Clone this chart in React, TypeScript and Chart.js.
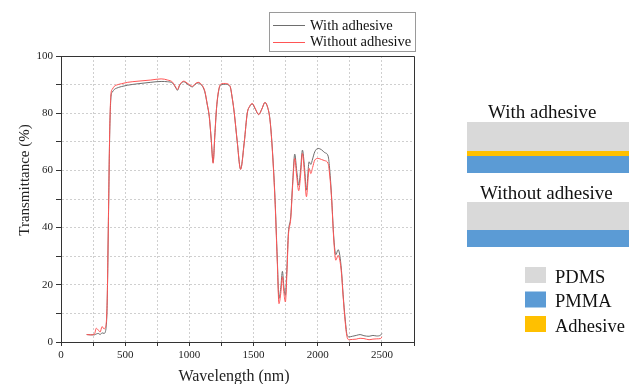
import { useEffect, useRef } from "react";
import { Chart, registerables } from "chart.js";

Chart.register(...registerables);

// ---- data ----
const wavelengths = [
  200, 230, 260, 275, 290, 305, 320, 335, 350, 360, 370, 380, 390, 400, 415, 430, 470, 520, 600, 700,
  780, 830, 870, 895, 907, 925, 956, 990, 1024, 1045, 1068, 1095, 1120, 1140, 1155, 1170, 1185, 1198,
  1212, 1230, 1250, 1280, 1316, 1335, 1350, 1373, 1399, 1428, 1451, 1470, 1490, 1515, 1540, 1565, 1589,
  1610, 1628, 1645, 1667, 1685, 1698, 1712, 1725, 1737, 1748, 1760, 1771, 1790, 1805, 1821, 1836, 1852,
  1866, 1881, 1897, 1912, 1933, 1946, 1960, 1977, 2003, 2030, 2055, 2081, 2094, 2107, 2126, 2141, 2159,
  2172, 2185, 2198, 2214, 2230, 2245, 2270, 2300, 2330, 2360, 2400, 2430, 2460, 2490, 2500,
];

const withAdhesive = [
  2.6, 2.5, 2.5, 2.8, 3.0, 2.6, 3.2, 3.0, 4.5, 14, 44, 74, 86, 87.4, 88.3, 88.7, 89.3, 89.8, 90.3, 90.8,
  91.1, 91, 90.5, 88.8, 88.0, 89.8, 91, 90, 89.2, 90.1, 90.6, 89.8, 87.5, 82.8, 78.8, 71, 62.8, 72,
  81.8, 88.2, 90, 90.1, 89.4, 85, 80, 70, 60.5, 70, 80, 82.3, 83.2, 81.3, 79.5, 81.5, 83.7,
  82, 77.8, 68.5, 50.5, 29, 15.2, 19, 24.7, 19, 16.3, 26, 37.9, 44, 56, 65.7, 60, 54.8,
  60, 67.1, 61, 53.1, 63, 62.1, 64, 66.5, 67.7, 67.2, 66.2, 65, 60, 51.5, 36, 30.5, 32.3,
  30.3, 25, 16.5, 8, 2.2, 1.8, 2.0, 2.3, 2.6, 2.2, 2.0, 2.3, 2.1, 2.4, 3.0,
];

const withoutAdhesive = [
  2.6, 2.5, 2.7, 4.8, 4.2, 3.5, 5.4, 4.6, 5.8, 15, 45, 75, 87, 88.4, 89.4, 89.8, 90.3, 90.8, 91.2, 91.6,
  92, 91.6, 90.8, 89, 88.3, 90, 91.2, 90.3, 89.4, 90.3, 90.8, 90, 87.8, 83, 79, 71, 62.5, 72,
  82, 88.5, 90.3, 90.4, 89.6, 85, 80, 70, 60.3, 70, 80, 82.5, 83.4, 81.5, 79.5, 81.5, 83.8,
  82, 77.6, 68, 49.6, 28, 13.4, 17, 22.8, 17, 14, 24, 36.8, 43.2, 55, 64.2, 58, 52.9,
  58, 65.9, 59, 50.8, 60.7, 58.9, 61, 63.6, 64.2, 63.8, 63.4, 62.4, 58, 50.8, 35, 28.6, 30.3,
  28.6, 24, 15.8, 7, 1.5, 0.8, 0.9, 1.0, 1.3, 1.2, 0.8, 1.0, 1.1, 1.2, 1.8,
];

const seriesNames = ["With adhesive", "Without adhesive"];
const xTickLabels = [0, 500, 1000, 1500, 2000, 2500];
const yTickLabels = [0, 20, 40, 60, 80, 100];
const structureTitles = ["With adhesive", "Without adhesive"];
const layerNames = ["PDMS", "PMMA", "Adhesive"];

const GRAY = "#6e6e6e";
const RED = "#ff5555";
const SERIF = "'Liberation Serif', 'Times New Roman', serif";
const LAYER_COLORS = ["#D9D9D9", "#5B9BD5", "#FFC000"];

const decor = {
  id: "decor",
  beforeDraw(chart: any) {
    const ctx = chart.ctx;
    ctx.save();
    ctx.fillStyle = "#ffffff";
    ctx.fillRect(0, 0, chart.width, chart.height);
    ctx.restore();
  },
  afterDraw(chart: any) {
    const ctx = chart.ctx;
    const a = chart.chartArea;
    ctx.save();
    // frame (top & right)
    ctx.strokeStyle = "#333";
    ctx.lineWidth = 1;
    const l = Math.round(a.left) + 0.5;
    const r = Math.round(a.right) + 0.5;
    const t = Math.round(a.top) + 0.5;
    const b = Math.round(a.bottom) + 0.5;
    ctx.beginPath();
    ctx.moveTo(l, t);
    ctx.lineTo(r, t);
    ctx.lineTo(r, b);
    ctx.stroke();

    // axis titles
    ctx.fillStyle = "#222";
    ctx.font = `16px ${SERIF}`;
    ctx.textAlign = "center";
    ctx.textBaseline = "alphabetic";
    ctx.fillText("Wavelength (nm)", 234, 381);
    ctx.save();
    ctx.translate(25, 180);
    ctx.rotate(-Math.PI / 2);
    ctx.font = `15px ${SERIF}`;
    ctx.textBaseline = "middle";
    ctx.fillText("Transmittance (%)", 0, 0);
    ctx.restore();

    // legend
    ctx.strokeStyle = "#9a9a9a";
    ctx.strokeRect(269.5, 12.5, 146, 39);
    const colors = [GRAY, RED];
    ctx.font = `14.5px ${SERIF}`;
    ctx.textAlign = "left";
    ctx.textBaseline = "middle";
    seriesNames.forEach((name, i) => {
      const y = 25 + i * 16.5;
      ctx.strokeStyle = colors[i];
      ctx.beginPath();
      ctx.moveTo(273, Math.round(y) + 0.5);
      ctx.lineTo(305, Math.round(y) + 0.5);
      ctx.stroke();
      ctx.fillStyle = "#111";
      ctx.fillText(name, 310, y + 1);
    });

    // structure diagram
    ctx.font = `19px ${SERIF}`;
    ctx.textBaseline = "alphabetic";
    ctx.fillStyle = "#111";
    ctx.fillText(structureTitles[0], 488, 118);
    ctx.fillStyle = LAYER_COLORS[0];
    ctx.fillRect(467, 122, 162, 29);
    ctx.fillStyle = LAYER_COLORS[2];
    ctx.fillRect(467, 151, 162, 5);
    ctx.fillStyle = LAYER_COLORS[1];
    ctx.fillRect(467, 156, 162, 17);

    ctx.fillStyle = "#111";
    ctx.fillText(structureTitles[1], 480, 199);
    ctx.fillStyle = LAYER_COLORS[0];
    ctx.fillRect(467, 202, 162, 28);
    ctx.fillStyle = LAYER_COLORS[1];
    ctx.fillRect(467, 230, 162, 17);

    // layer legend
    ctx.font = `18.5px ${SERIF}`;
    layerNames.forEach((name, i) => {
      const top = 267 + i * 24.5;
      ctx.fillStyle = LAYER_COLORS[i];
      ctx.fillRect(525, top, 21, 16);
      ctx.fillStyle = "#111";
      ctx.fillText(name, 555, top + 15.5);
    });
    ctx.restore();
  },
};

export default function App() {
  const ref = useRef<HTMLCanvasElement | null>(null);

  useEffect(() => {
    if (!ref.current) return;
    const chart = new Chart(ref.current, {
      type: "line",
      data: {
        datasets: [
          {
            label: seriesNames[0],
            data: wavelengths.map((x, i) => ({ x, y: withAdhesive[i] })),
            borderColor: GRAY,
            borderWidth: 1,
            pointRadius: 0,
            cubicInterpolationMode: "monotone",
            order: 2,
          },
          {
            label: seriesNames[1],
            data: wavelengths.map((x, i) => ({ x, y: withoutAdhesive[i] })),
            borderColor: RED,
            borderWidth: 1,
            pointRadius: 0,
            cubicInterpolationMode: "monotone",
            order: 1,
          },
        ],
      },
      options: {
        responsive: false,
        animation: false,
        devicePixelRatio: 1,
        layout: { padding: { top: 56, right: 215, left: 0, bottom: 0 } },
        plugins: { legend: { display: false }, tooltip: { enabled: false } },
        scales: {
          x: {
            type: "linear",
            min: 0,
            max: 2750,
            afterFit: (s: any) => {
              s.height = 42;
            },
            ticks: {
              stepSize: 250,
              autoSkip: false,
              maxRotation: 0,
              padding: 3,
              color: "#222",
              font: { family: SERIF, size: 11 },
              callback: (v: any) => (xTickLabels.includes(Number(v)) ? String(v) : ""),
            },
            grid: { color: "#cfcfcf", tickColor: "#333", tickLength: 4, lineWidth: 1 },
            border: { color: "#333", dash: [2, 2] },
          },
          y: {
            min: 0,
            max: 100,
            afterFit: (s: any) => {
              s.width = 61;
            },
            ticks: {
              stepSize: 10,
              autoSkip: false,
              padding: 3,
              color: "#222",
              font: { family: SERIF, size: 11 },
              callback: (v: any) => (yTickLabels.includes(Number(v)) ? String(v) : ""),
            },
            grid: { color: "#cfcfcf", tickColor: "#333", tickLength: 5, lineWidth: 1 },
            border: { color: "#333", dash: [2, 2] },
          },
        },
      },
      plugins: [decor],
    });
    return () => chart.destroy();
  }, []);

  return (
    <div style={{ position: "fixed", left: 0, top: 0, width: 629, height: 384 }}>
      <canvas ref={ref} width={629} height={384} />
    </div>
  );
}
